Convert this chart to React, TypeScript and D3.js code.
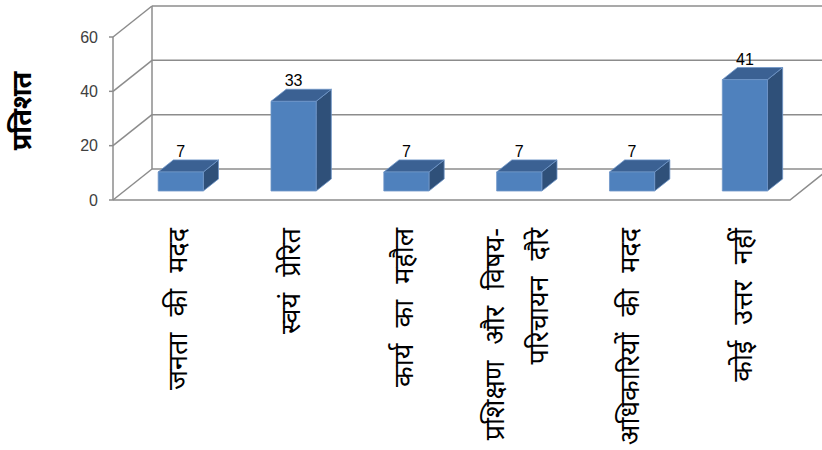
import React from "react";
import * as d3 from "d3";

const categories: string[][] = [
  ["जनता की मदद"],
  ["स्वयं प्रेरित"],
  ["कार्य का महौल"],
  ["प्रशिक्षण और विषय-", "परिचायन दौरे"],
  ["अधिकारियों की मदद"],
  ["कोई उत्तर नहीं"],
];
const values: number[] = [7, 33, 7, 7, 7, 41];
const yTicks: number[] = [0, 20, 40, 60];
const yTitle = "प्रतिशत";

const W = 822;
const H = 450;
const DX = 39;
const DY = -31;
const D0 = 0.29;
const D1 = 0.68;

export default function App() {
  const y = d3.scaleLinear().domain([0, 60]).range([200, 37]);
  const x = d3
    .scaleBand<number>()
    .domain(values.map((_, i) => i))
    .range([113, 790])
    .paddingInner(0.6)
    .paddingOuter(0.3);
  const x0 = 113;
  const x1 = 790;
  const P = (px: number, v: number, d: number): [number, number] => [px + DX * d, y(v) + DY * d];
  const grid = "#8c8c8c";
  const line = d3.line();

  return (
    <svg width={W} height={H} style={{ position: "absolute", left: 0, top: 0, background: "#fff" }}>
      {/* walls */}
      <g stroke={grid} strokeWidth={1.5} fill="none">
        {yTicks.map((t) => (
          <g key={t}>
            <path d={line([P(x0, t, 0), P(x0, t, 1)]) || ""} />
            <path d={line([P(x0, t, 1), P(x1 + 60, t, 1)]) || ""} />
            <path d={line([[x0 - 4, y(t)], [x0, y(t)]]) || ""} />
          </g>
        ))}
        <path d={line([P(x0, 0, 0), P(x0, 60, 0)]) || ""} />
        <path d={line([P(x0, 0, 1), P(x0, 60, 1)]) || ""} />
        <path d={line([P(x0, 0, 0), P(x1, 0, 0), P(x1, 0, 1)]) || ""} />
      </g>
      {/* y tick labels */}
      <g fontFamily="'Liberation Sans', Arial, sans-serif" fontSize={16} fill="#404040" textAnchor="end">
        {yTicks.map((t) => (
          <text key={t} x={x0 - 15} y={y(t)} dy="0.35em">
            {t}
          </text>
        ))}
      </g>
      {/* y title */}
      <text
        transform={`translate(31,111) rotate(-90)`}
        textAnchor="middle"
        fontFamily="'Noto Sans', sans-serif"
        fontWeight="bold"
        fontSize={27}
        fill="#000"
      >
        {yTitle}
      </text>
      {/* bars */}
      {values.map((v, i) => {
        const bx = x(i) as number;
        const bw = x.bandwidth();
        const fl = P(bx, 0, D0);
        const ft = P(bx, v, D0);
        const fr = P(bx + bw, v, D0);
        const frb = P(bx + bw, 0, D0);
        const bt = P(bx, v, D1);
        const brt = P(bx + bw, v, D1);
        const brb = P(bx + bw, 0, D1);
        const front = line([fl, ft, fr, frb]) + "Z";
        const top = line([ft, bt, brt, fr]) + "Z";
        const side = line([frb, fr, brt, brb]) + "Z";
        return (
          <g key={i} stroke="#6f95c8" strokeWidth={0.8} strokeLinejoin="round">
            <path d={side} fill="#2f5079" />
            <path d={top} fill="#3b6193" />
            <path d={front} fill="#4f81bd" />
            <text
              x={(ft[0] + fr[0]) / 2}
              y={bt[1] - 3}
              textAnchor="middle"
              stroke="none"
              fill="#000"
              fontFamily="'Liberation Sans', Arial, sans-serif"
              fontSize={16}
            >
              {v}
            </text>
          </g>
        );
      })}
      {/* x labels */}
      {categories.map((lines, i) => {
        const cx = (x(i) as number) + x.bandwidth() / 2 + 18;
        const n = lines.length;
        const lh = 44;
        return (
          <text
            key={i}
            transform={`translate(${cx - ((n - 1) * lh) / 2},228) rotate(-90)`}
            textAnchor="end"
            fontFamily="'Noto Sans', sans-serif"
            fontSize={27}
            wordSpacing={9}
            fill="#000"
          >
            {lines.map((l, j) => (
              <tspan key={j} x={0} dy={j === 0 ? 0 : lh}>
                {l}
              </tspan>
            ))}
          </text>
        );
      })}
    </svg>
  );
}
